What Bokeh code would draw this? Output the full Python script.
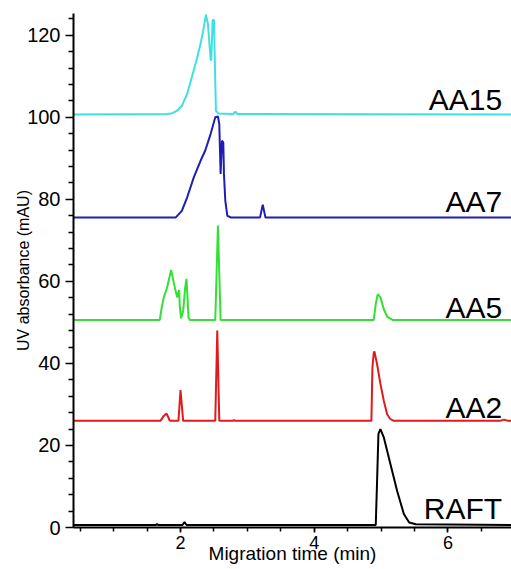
from bokeh.plotting import figure
from bokeh.models import Range1d, FixedTicker, ColumnDataSource
from bokeh.core.properties import value
from bokeh.embed import file_html
from bokeh.resources import INLINE

# ---- data (migration time in min, UV absorbance in mAU, stacked traces) ----
aa15_t = [0.40, 1.80, 1.88, 1.95, 2.02, 2.10, 2.17, 2.25, 2.30, 2.35, 2.38, 2.41,
          2.45, 2.46, 2.48, 2.50, 2.51, 2.53, 2.57, 2.79, 2.82, 2.85, 6.95]
aa15_y = [100.7, 100.8, 101.0, 101.6, 102.8, 105.7, 109.8, 114.6, 117.9, 122.0, 125.0, 122.8,
          114.2, 113.8, 123.6, 123.8, 116.3, 101.6, 100.9, 100.8, 101.4, 100.8, 100.7]

aa7_t = [0.40, 1.93, 2.02, 2.10, 2.20, 2.30, 2.37, 2.45, 2.52, 2.56, 2.58, 2.60,
         2.62, 2.64, 2.65, 2.67, 2.70, 2.75, 3.19, 3.23, 3.27, 6.95]
aa7_y = [75.6, 75.6, 77.2, 80.5, 85.4, 89.4, 91.9, 95.9, 100.0, 100.2, 98.4, 86.2,
         94.3, 93.9, 86.2, 79.7, 76.0, 75.6, 75.6, 78.7, 75.6, 75.6]

aa5_t = [0.40, 1.69, 1.72, 1.75, 1.80, 1.86, 1.91, 1.95, 1.98, 1.99, 2.01, 2.04,
         2.07, 2.09, 2.12, 2.14, 2.52, 2.56, 2.60, 4.89, 4.92, 4.95, 4.99, 5.04,
         5.09, 5.17, 6.95]
aa5_y = [50.6, 50.6, 53.7, 56.1, 58.5, 62.8, 58.9, 56.1, 57.9, 53.7, 51.0, 52.8,
         58.5, 60.6, 51.2, 50.6, 50.6, 73.6, 50.6, 50.6, 54.5, 56.9, 56.1, 53.2,
         51.4, 50.6, 50.6]

aa2_t = [0.40, 1.70, 1.75, 1.79, 1.82, 1.84, 1.97, 2.00, 2.04, 2.52, 2.55, 2.58,
         2.78, 2.80, 2.82, 4.855, 4.87, 4.89, 4.90, 4.94, 4.99, 5.04, 5.09, 5.14,
         5.19, 6.78, 6.84, 6.90, 6.95]
aa2_y = [26.0, 26.0, 27.2, 27.8, 26.8, 26.0, 26.0, 33.5, 26.0, 26.0, 48.0, 26.0,
         26.0, 26.2, 26.0, 26.0, 39.0, 42.6, 42.9, 39.8, 35.0, 30.9, 27.6, 26.4,
         26.0, 26.0, 26.3, 26.0, 26.0]

raft_t = [0.40, 1.63, 1.65, 1.67, 2.03, 2.06, 2.09, 4.92, 4.94, 4.96, 4.99, 5.04,
          5.14, 5.24, 5.34, 5.42, 5.52, 6.95]
raft_y = [0.6, 0.6, 0.8, 0.6, 0.6, 1.3, 0.6, 0.6, 11.4, 22.8, 24.0, 22.0,
          15.4, 8.9, 3.3, 1.2, 0.8, 0.6]

series_names = ["AA15", "AA7", "AA5", "AA2", "RAFT"]
series_colors = ["#40E0E0", "#1E1EB4", "#33E033", "#E01B1B", "#000000"]
label_x = [6.81, 6.81, 6.81, 6.81, 6.81]
label_y = [104.4, 79.5, 53.6, 29.2, 4.6]

x_major = [2, 4, 6]
x_minor = [0.5, 1.0, 1.5, 2.0, 2.5, 3.0, 3.5, 4.0, 4.5, 5.0, 5.5, 6.0, 6.5]
y_major = [0, 20, 40, 60, 80, 100, 120]
y_minor = [4, 8, 12, 16, 24, 28, 32, 36, 44, 48, 52, 56, 64, 68, 72, 76,
           84, 88, 92, 96, 104, 108, 112, 116, 124]

x_title = "Migration time (min)"
y_title = "UV absorbance (mAU)"

FONT = "Liberation Sans"

p = figure(width=511, height=569, output_backend="svg", toolbar_location=None,
           x_range=Range1d(0.40, 6.95), y_range=Range1d(0, 125.3),
           min_border_left=73, min_border_right=0, min_border_top=13,
           min_border_bottom=42)
p.outline_line_color = None
p.grid.visible = False
p.background_fill_color = "white"
p.border_fill_color = "white"

traces = [(aa15_t, aa15_y), (aa7_t, aa7_y), (aa5_t, aa5_y), (aa2_t, aa2_y), (raft_t, raft_y)]
for (t, y), c in zip(traces, series_colors):
    p.line(t, y, line_color=c, line_width=2)

src = ColumnDataSource(dict(x=label_x, y=label_y, t=series_names))
p.text(x="x", y="y", text="t", source=src, text_align="right", text_baseline="alphabetic",
       text_font=value(FONT), text_font_size="30px", text_color="black")

# axes
xa = p.xaxis[0]
xa.ticker = FixedTicker(ticks=x_major, minor_ticks=x_minor)
xa.axis_label = x_title
ya = p.yaxis[0]
ya.ticker = FixedTicker(ticks=y_major, minor_ticks=y_minor)
ya.axis_label = y_title

for ax in (xa, ya):
    ax.axis_line_width = 2
    ax.axis_line_color = "black"
    ax.major_tick_line_color = "black"
    ax.minor_tick_line_color = "black"
    ax.major_tick_line_width = 1.5
    ax.minor_tick_line_width = 1.5
    ax.major_tick_in = 0
    ax.minor_tick_in = 0
    ax.major_label_text_font = FONT
    ax.major_label_text_color = "black"
    ax.axis_label_text_font = FONT
    ax.axis_label_text_font_style = "normal"
    ax.axis_label_text_color = "black"

xa.major_tick_out = 5
xa.minor_tick_out = 4
xa.major_label_text_font_size = "18px"
xa.major_label_standoff = 3
xa.axis_label_text_font_size = "19px"
xa.axis_label_standoff = -9

ya.major_tick_out = 8
ya.minor_tick_out = 5
ya.major_label_text_font_size = "20px"
ya.major_label_standoff = 5
ya.axis_label_text_font_size = "16px"
ya.axis_label_standoff = -8

open("out.html", "w").write(file_html(p, INLINE))
